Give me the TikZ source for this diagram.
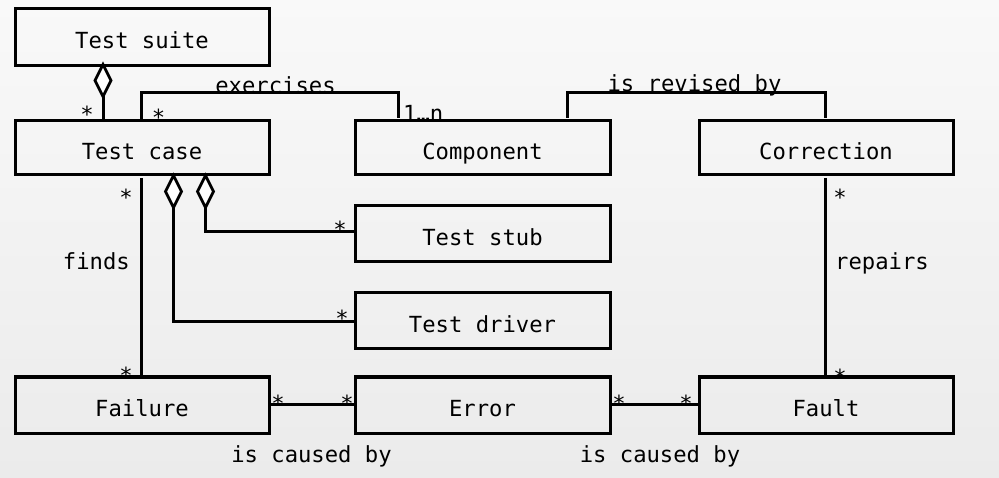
\documentclass[tikz,border=0pt]{standalone}
\usepackage{fontspec}
\newfontfamily\dmono{DejaVu Sans Mono}
\usetikzlibrary{shapes.geometric}
\definecolor{bgtop}{HTML}{F9F9F9}
\definecolor{bgbot}{HTML}{EBEBEB}
\begin{document}
\begin{tikzpicture}[x=1pt,y=-1pt,
  font=\dmono\fontsize{22.2}{25}\selectfont,
  umlbox/.style={draw,line width=3pt,outer sep=0pt,minimum width=254pt,text height=23pt,text depth=0pt,inner sep=0pt},
  conn/.style={line width=3pt},
  agg/.style={draw,fill=white,line width=2.8pt,outer sep=0pt,shape=diamond,minimum width=16pt,minimum height=32pt,inner sep=0pt},
  lbl/.style={inner sep=0pt,anchor=base},
]
\useasboundingbox (0,0) rectangle (999,478);
\fill[top color=bgtop,bottom color=bgbot] (0,0) rectangle (999,478);

% classes
\node[umlbox,minimum height=57pt] (suite) at (142,37.5) {Test suite};
\node[umlbox,minimum height=54pt] (tc) at (142,148) {Test case};
\node[umlbox,minimum height=54pt,minimum width=255pt] (comp) at (482.5,148) {Component};
\node[umlbox,minimum height=54pt] (corr) at (826,148) {Correction};
\node[umlbox,minimum height=56pt,minimum width=255pt] (stub) at (482.5,234) {Test stub};
\node[umlbox,minimum height=56pt,minimum width=255pt] (drv) at (482.5,321) {Test driver};
\node[umlbox,minimum height=56pt] (fail) at (142,405) {Failure};
\node[umlbox,minimum height=56pt,minimum width=255pt] (err) at (482.5,405) {Error};
\node[umlbox,minimum height=56pt] (fault) at (826,405) {Fault};

% aggregation diamonds
\node[agg] (d1) at (103,80.5) {};
\node[agg] (d2) at (173.5,191.5) {};
\node[agg] (d3) at (205.5,191.5) {};

% connectors
\draw[conn] (d1.south) -- (d1.south |- tc.north);
\draw[conn] ([xshift=-1pt]tc.north) -- ++(0,-28) coordinate (ex) -| ([xshift=-84.5pt,yshift=3pt]comp.north);
\draw[conn] ([xshift=84.5pt,yshift=3pt]comp.north) -- ++(0,-25) coordinate (rv) -| ([xshift=-1pt,yshift=3pt]corr.north);
\draw[conn] ([xshift=-1pt,yshift=-3pt]tc.south) -- ([xshift=-1pt]fail.north);
\draw[conn] (d3.south) |- ([yshift=2pt]stub.west);
\draw[conn] (d2.south) |- ([yshift=-1pt]drv.west);
\draw[conn] ([xshift=-1pt,yshift=-3pt]corr.south) -- ([xshift=-1pt]fault.north);
\draw[conn] ([yshift=1pt]fail.east) -- ([yshift=1pt]err.west);
\draw[conn] ([yshift=1pt]err.east) -- ([yshift=1pt]fault.west);

% association labels
\node[lbl] (lex) at (275.5,94) {exercises};
\node[lbl,anchor=base west] (l1n) at (403,122) {1…n};
\node[lbl] (lrv) at (694.5,92) {is revised by};
\node[lbl,anchor=base east] (lfi) at (130,270) {finds};
\node[lbl,anchor=base west] (lre) at (835,270) {repairs};
\node[lbl] (lc1) at (311.5,462) {is caused by};
\node[lbl] (lc2) at (660,462) {is caused by};

% multiplicities
\node[lbl] (m1) at (87,123) {*};
\node[lbl] (m2) at (158.5,126) {*};
\node[lbl] (m3) at (126,206) {*};
\node[lbl] (m4) at (126,383) {*};
\node[lbl] (m5) at (340,238) {*};
\node[lbl] (m6) at (342,327) {*};
\node[lbl] (m7) at (840,206) {*};
\node[lbl] (m8) at (840,385) {*};
\node[lbl] (m9) at (278,411) {*};
\node[lbl] (m10) at (347,411) {*};
\node[lbl] (m11) at (619,411) {*};
\node[lbl] (m12) at (686,411) {*};
\end{tikzpicture}
\end{document}
